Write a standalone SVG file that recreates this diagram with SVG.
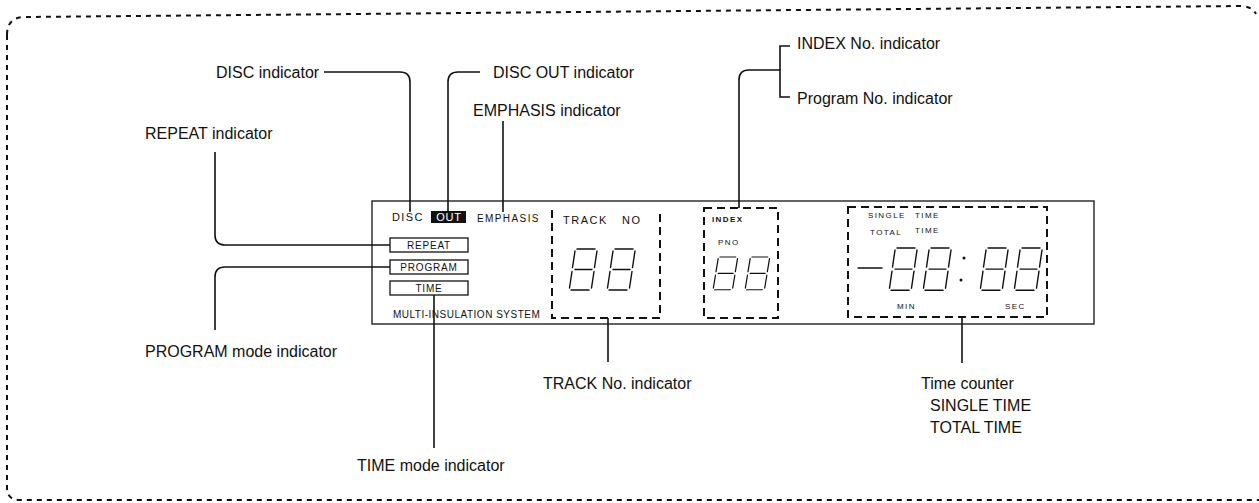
<svg xmlns="http://www.w3.org/2000/svg" xmlns:xlink="http://www.w3.org/1999/xlink" width="1259" height="503" viewBox="0 0 1259 503">
<style>
.lbl{font-family:"Liberation Sans",Arial,sans-serif;font-size:16px;fill:#111}
.sm{font-family:"Liberation Sans",Arial,sans-serif;font-size:11px;fill:#111;letter-spacing:0.8px}
.tn{font-family:"Liberation Sans",Arial,sans-serif;font-size:8px;fill:#111;letter-spacing:1.4px}
.ln{fill:none;stroke:#111;stroke-width:1.6}
.dash{fill:none;stroke:#111;stroke-width:2;stroke-dasharray:8 5}
.bdr{fill:none;stroke:#111;stroke-width:2;stroke-dasharray:5 5}
.box{fill:#fff;stroke:#111;stroke-width:1.3}
.seg{fill:none;stroke:#111;stroke-width:1.4;stroke-linecap:round}
</style>
<defs>
<g id="dig" class="seg">
<line x1="9" y1="0" x2="27" y2="0"/>
<line x1="29" y1="2" x2="26.5" y2="18.5"/>
<line x1="26" y1="22.5" x2="23.5" y2="39"/>
<line x1="3" y1="41" x2="21" y2="41"/>
<line x1="4" y1="22.5" x2="1.5" y2="39"/>
<line x1="7" y1="2" x2="4.5" y2="18.5"/>
<line x1="7" y1="20.5" x2="24" y2="20.5"/>
</g>
</defs>
<g id="border">
<path class="bdr" d="M7,35 Q7,17 25,17 L1240,6 Q1252,6 1256,14"/>
<path class="bdr" d="M7,35 V488 Q7,500 20,500 H1259"/>
</g>
<g id="connectors">
<path class="ln" d="M324,72 H400 Q410,72 410,82 V212"/>
<path class="ln" d="M448,212 V82 Q448,72 458,72 H480"/>
<path class="ln" d="M503,121 V212"/>
<path class="ln" d="M215,152 V235 Q215,245 225,245 H390"/>
<path class="ln" d="M390,267 H225 Q215,267 215,277 V330"/>
<path class="ln" d="M434,295 V448"/>
<path class="ln" d="M608,318 V362"/>
<path class="ln" d="M739,208 V80 Q739,70 749,70 H780"/>
<path class="ln" d="M790,46 H780 V97 H790"/>
<path class="ln" d="M962,317 V363"/>
</g>
<g id="panel">
<rect x="372" y="201" width="722" height="123" fill="none" stroke="#111" stroke-width="1.3"/>
</g>
<g id="disc">
<text class="sm" x="392" y="221" style="letter-spacing:1.4px">DISC</text>
</g>
<g id="out">
<rect x="431" y="211" width="35" height="12" fill="#111"/>
<text class="sm" x="449" y="221" text-anchor="middle" style="fill:#fff">OUT</text>
</g>
<g id="emphasis">
<text class="sm" x="477" y="222" style="font-size:10px;letter-spacing:1.4px">EMPHASIS</text>
</g>
<g id="repeat">
<rect class="box" x="390" y="238" width="78" height="14"/>
<text class="sm" x="429" y="249" text-anchor="middle" style="font-size:10px">REPEAT</text>
</g>
<g id="program">
<rect class="box" x="390" y="260" width="78" height="14"/>
<text class="sm" x="429" y="271" text-anchor="middle" style="font-size:10px">PROGRAM</text>
</g>
<g id="time">
<rect class="box" x="390" y="281" width="78" height="14"/>
<text class="sm" x="429" y="292" text-anchor="middle" style="font-size:10px">TIME</text>
</g>
<g id="multi">
<text class="sm" x="393" y="318" style="font-size:10px;letter-spacing:0.5px">MULTI-INSULATION SYSTEM</text>
</g>
<g id="track">
<path class="dash" d="M552,210 V318 H660 V210"/>
<text class="sm" x="563" y="224" style="letter-spacing:1.5px">TRACK</text>
<text class="sm" x="622" y="224" style="letter-spacing:1.5px">NO</text>
<use xlink:href="#dig" href="#dig" transform="translate(568,249)"/>
<use xlink:href="#dig" href="#dig" transform="translate(606,249)"/>
</g>
<g id="index">
<rect class="dash" x="704" y="208" width="74" height="110"/>
<text class="tn" x="712" y="222" font-weight="bold">INDEX</text>
<text class="tn" x="718" y="245">PNO</text>
<use xlink:href="#dig" href="#dig" transform="translate(712,257) scale(0.88,0.8)"/>
<use xlink:href="#dig" href="#dig" transform="translate(744,257) scale(0.88,0.8)"/>
</g>
<g id="timecounter">
<rect class="dash" x="848" y="207" width="199" height="110"/>
<text class="tn" x="868" y="218">SINGLE</text>
<text class="tn" x="915" y="218">TIME</text>
<text class="tn" x="870" y="235">TOTAL</text>
<text class="tn" x="915" y="233">TIME</text>
<text class="tn" x="897" y="309">MIN</text>
<text class="tn" x="1005" y="309">SEC</text>
<line class="seg" x1="858" y1="268" x2="882" y2="268"/>
<use xlink:href="#dig" href="#dig" transform="translate(888,248) scale(1,1.03)"/>
<use xlink:href="#dig" href="#dig" transform="translate(922,248) scale(1,1.03)"/>
<circle cx="964" cy="258" r="1.5" fill="#111"/>
<circle cx="961" cy="280" r="1.5" fill="#111"/>
<use xlink:href="#dig" href="#dig" transform="translate(979,248) scale(1,1.03)"/>
<use xlink:href="#dig" href="#dig" transform="translate(1013,248) scale(1,1.03)"/>
</g>
<g id="labels">
<text class="lbl" x="216" y="78">DISC indicator</text>
<text class="lbl" x="493" y="78">DISC OUT indicator</text>
<text class="lbl" x="473" y="116">EMPHASIS indicator</text>
<text class="lbl" x="145" y="139">REPEAT indicator</text>
<text class="lbl" x="145" y="357">PROGRAM mode indicator</text>
<text class="lbl" x="357" y="471">TIME mode indicator</text>
<text class="lbl" x="543" y="389">TRACK No. indicator</text>
<text class="lbl" x="797" y="49">INDEX No. indicator</text>
<text class="lbl" x="797" y="104">Program No. indicator</text>
<text class="lbl" x="921" y="389">Time counter</text>
<text class="lbl" x="930" y="411">SINGLE TIME</text>
<text class="lbl" x="930" y="433">TOTAL TIME</text>
</g>
</svg>
